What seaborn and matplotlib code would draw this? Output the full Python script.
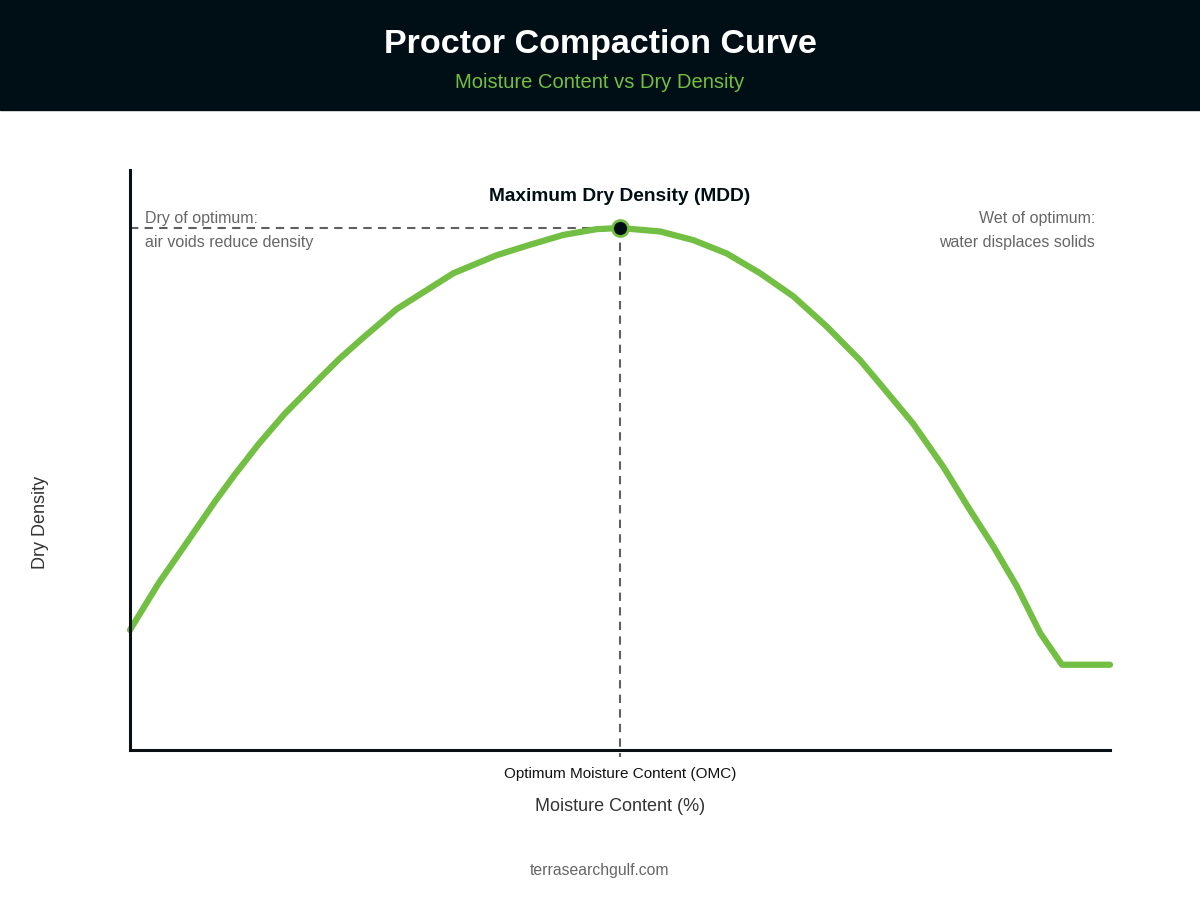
import matplotlib
matplotlib.use("Agg")
import matplotlib.pyplot as plt
from matplotlib.patches import Rectangle
import pandas as pd
import seaborn as sns

# curve (x = moisture, y = dry density, both relative 0-100)
moisture = [0, 2.9, 6.3, 8.7, 10.7, 13.1, 15.8, 19.6, 21.4, 23.8, 27.2, 33.0, 37.4,
            40.8, 44.2, 47.6, 50.0, 54.1, 57.5, 60.9, 64.3, 67.7, 71.1, 74.5, 76.2,
            79.9, 83.0, 85.7, 88.1, 90.5, 92.9, 95.1, 100]
density = [20.7, 28.7, 37.0, 42.9, 47.5, 52.7, 58.0, 64.5, 67.5, 71.1, 76.0, 82.2, 85.3,
           87.1, 88.8, 89.8, 90.0, 89.4, 87.9, 85.6, 82.2, 78.2, 73.0, 67.2, 63.8,
           56.3, 48.8, 41.4, 35.1, 28.2, 20.1, 14.7, 14.7]
omc = 50.0
mdd = 90.0
tick_labels = ["Optimum Moisture Content (OMC)"]

green = "#72bf44"
dark = "#000f16"
grey = "#666666"

sns.set_theme(style="white")
plt.rcParams["font.family"] = ["Liberation Sans", "DejaVu Sans"]

fig = plt.figure(figsize=(12, 9), dpi=100)
fig.patches.append(Rectangle((0, 1 - 110 / 900), 1, 110 / 900, transform=fig.transFigure,
                             color=dark, zorder=0))
fig.text(0.5, 1 - 45 / 900, "Proctor Compaction Curve", ha="center", va="center",
         color="white", fontsize=24.5, fontweight="bold")
fig.text(0.5, 1 - 82 / 900, "Moisture Content vs Dry Density", ha="center", va="center",
         color=green, fontsize=14.5)
fig.text(0.5, 1 - 870 / 900, "terrasearchgulf.com", ha="center", va="center",
         color=grey, fontsize=11.3)

ax = fig.add_axes([130 / 1200, 150 / 900, 980 / 1200, 580 / 900])
df = pd.DataFrame({"moisture": moisture, "density": density})
sns.lineplot(data=df, x="moisture", y="density", color=green, linewidth=4.5, ax=ax,
             sort=False, clip_on=False)

ax.plot([0, omc], [mdd, mdd], ls=(0, (4, 3)), color="#606060", lw=1.5, zorder=1)
ax.plot([omc, omc], [mdd, -1.2], ls=(0, (4, 3)), color="#606060", lw=1.5, zorder=1,
        clip_on=False)
ax.plot([omc], [mdd], "o", ms=11.5, mfc=dark, mec=green, mew=2, zorder=5)

ax.text(omc, 95.5, "Maximum Dry Density (MDD)", ha="center", va="center",
        fontsize=13.8, fontweight="bold", color=dark)
ax.text(1.5, 89.6, "Dry of optimum:\nair voids reduce density", ha="left", va="center",
        fontsize=11.5, color=grey, linespacing=1.75)
ax.text(98.5, 89.6, "Wet of optimum:\nwater displaces solids", ha="right", va="center",
        fontsize=11.5, color=grey, linespacing=1.75)

ax.set_xlim(0, 100)
ax.set_ylim(0, 100)
ax.set_xticks([omc])
ax.set_xticklabels(tick_labels, fontsize=11, color="#111111")
ax.set_yticks([])
ax.tick_params(axis="x", length=0, pad=12.5)

ax.set_xlabel("Moisture Content (%)", fontsize=13, color="#333333")
ax.set_ylabel("Dry Density", fontsize=13, color="#333333")
ax.xaxis.set_label_coords(0.5, -0.083)
ax.yaxis.set_label_coords(-0.083, 0.393)

sns.despine(ax=ax)
for side in ["left", "bottom"]:
    ax.spines[side].set_color("#0a1014")
    ax.spines[side].set_linewidth(2.2)

fig.savefig("out.png", dpi=100)
